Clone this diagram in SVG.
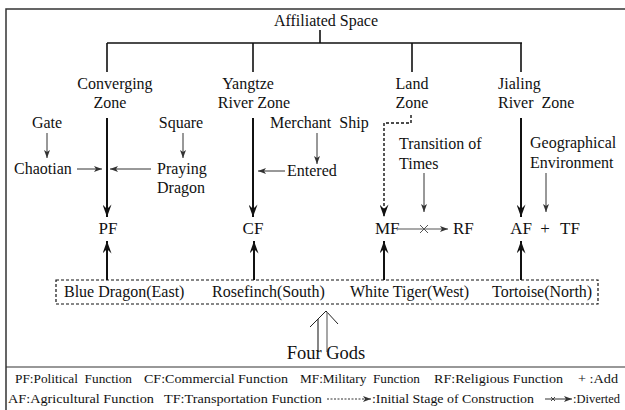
<svg xmlns="http://www.w3.org/2000/svg" width="625" height="410" viewBox="0 0 625 410">
<style>
text{font-family:"Liberation Serif","Times New Roman",serif;fill:#111}
.t{font-size:16px}
.f{font-size:17px}
.lg{font-size:13px}
.m{text-anchor:middle}
.thick{stroke:#111;stroke-width:2;fill:none}
.thin{stroke:#333;stroke-width:1;fill:none}
.tree{stroke:#111;stroke-width:1.6;fill:none}
.dash{stroke:#111;stroke-width:1.4;fill:none;stroke-dasharray:3,2}
</style>
<defs>
<marker id="big" viewBox="0 0 14 10" markerWidth="14" markerHeight="9" refX="14" refY="5" orient="auto" markerUnits="userSpaceOnUse">
<path d="M0,0 L14,5 L0,10 L5,5 z" fill="#111"/>
</marker>
<marker id="small" viewBox="0 0 8 6" markerWidth="8" markerHeight="6" refX="8" refY="3" orient="auto" markerUnits="userSpaceOnUse">
<path d="M0,0 L8,3 L0,6 L2,3 z" fill="#333"/>
</marker>
</defs>

<g id="frame">
<path d="M6,410 V9 H625" stroke="#333" stroke-width="1.5" fill="none"/>
<line x1="6" y1="367" x2="625" y2="367" stroke="#333" stroke-width="1.2"/>
</g>

<g id="connectors">
<path class="tree" d="M320,30 V43 M107,43 H522 M107,43 V72 M253,43 V72 M412,43 V72 M521,43 V72"/>
<line class="thick" x1="107" y1="118" x2="107" y2="217" marker-end="url(#big)"/>
<line class="thick" x1="253" y1="118" x2="253" y2="217" marker-end="url(#big)"/>
<line class="thick" x1="521" y1="118" x2="521" y2="217" marker-end="url(#big)"/>
<path class="dash" d="M411,115 V123 H384 V217" marker-end="url(#big)"/>
<line class="thick" x1="107" y1="280" x2="107" y2="241" marker-end="url(#big)"/>
<line class="thick" x1="254" y1="280" x2="254" y2="241" marker-end="url(#big)"/>
<line class="thick" x1="384" y1="280" x2="384" y2="241" marker-end="url(#big)"/>
<line class="thick" x1="521" y1="280" x2="521" y2="241" marker-end="url(#big)"/>
<line class="thin" x1="47" y1="133" x2="47" y2="158" marker-end="url(#small)"/>
<line class="thin" x1="183" y1="133" x2="183" y2="158" marker-end="url(#small)"/>
<line class="thin" x1="317" y1="133" x2="317" y2="164" marker-end="url(#small)"/>
<line class="thin" x1="77" y1="169" x2="102" y2="169" marker-end="url(#small)"/>
<line class="thin" x1="151" y1="169" x2="110" y2="169" marker-end="url(#small)"/>
<line class="thin" x1="285" y1="171" x2="258" y2="171" marker-end="url(#small)"/>
<line class="thin" x1="424" y1="173" x2="424" y2="212" marker-end="url(#small)"/>
<line class="thin" x1="546" y1="173" x2="546" y2="212" marker-end="url(#small)"/>
<line x1="398" y1="229" x2="448" y2="229" stroke="#555" stroke-width="1.2" marker-end="url(#small)"/>
<path d="M420,225 L428,233 M428,225 L420,233" stroke="#555" stroke-width="1"/>
<path d="M310,327 L326,311 L338,324" stroke="#222" stroke-width="1" fill="none"/>
<line x1="318" y1="319" x2="318" y2="352" stroke="#222" stroke-width="1.1"/>
<line x1="327" y1="312" x2="327" y2="352" stroke="#777" stroke-width="1.3"/>
</g>

<g id="affiliated"><text class="t m" x="326" y="26">Affiliated Space</text></g>
<g id="converging"><text class="t m" x="115" y="89">Converging</text><text class="t m" x="110" y="108">Zone</text></g>
<g id="yangtze"><text class="t m" x="248" y="89">Yangtze</text><text class="t m" x="254" y="108">River Zone</text></g>
<g id="land"><text class="t m" x="412" y="89">Land</text><text class="t m" x="412" y="108">Zone</text></g>
<g id="jialing"><text class="t" x="498" y="89">Jialing</text><text class="t" x="498" y="108">River&#160; Zone</text></g>
<g id="gate"><text class="t m" x="47" y="128">Gate</text></g>
<g id="square"><text class="t m" x="181" y="128">Square</text></g>
<g id="merchant"><text class="t" x="270" y="128">Merchant&#160; Ship</text></g>
<g id="chaotian"><text class="t" x="14" y="174">Chaotian</text></g>
<g id="praying"><text class="t" x="157" y="174">Praying</text><text class="t" x="157" y="193">Dragon</text></g>
<g id="entered"><text class="t" x="287" y="176">Entered</text></g>
<g id="transition"><text class="t" x="399" y="149">Transition of</text><text class="t" x="399" y="169">Times</text></g>
<g id="geo"><text class="t" x="530" y="148">Geographical</text><text class="t" x="530" y="168">Environment</text></g>
<g id="pf"><text class="f m" x="108" y="234">PF</text></g>
<g id="cf"><text class="f m" x="253" y="234">CF</text></g>
<g id="mf"><text class="f" x="375" y="234">MF</text></g>
<g id="rf"><text class="f" x="453" y="234">RF</text></g>
<g id="af"><text class="f m" x="521" y="234">AF</text></g>
<g id="plus"><text class="f m" x="545" y="234">+</text></g>
<g id="tf"><text class="f" x="560" y="234">TF</text></g>

<g id="fourgods-box">
<rect x="56" y="280" width="542" height="24" fill="none" stroke="#111" stroke-width="1.2" stroke-dasharray="3,2"/>
<text class="t" x="64" y="297">Blue Dragon(East)</text>
<text class="t" x="212" y="297">Rosefinch(South)</text>
<text class="t" x="350" y="297">White Tiger(West)</text>
<text class="t" x="492" y="297">Tortoise(North)</text>
</g>
<g id="fourgods"><text class="m" x="326" y="359" style="font-size:18.5px">Four Gods</text></g>

<g id="legend">
<text class="lg" x="15" y="383" textLength="117" lengthAdjust="spacingAndGlyphs">PF:Political&#160; Function</text>
<text class="lg" x="144" y="383" textLength="144" lengthAdjust="spacingAndGlyphs">CF:Commercial Function</text>
<text class="lg" x="300" y="383" textLength="120" lengthAdjust="spacingAndGlyphs">MF:Military&#160; Function</text>
<text class="lg" x="434" y="383" textLength="129" lengthAdjust="spacingAndGlyphs">RF:Religious Function</text>
<text class="lg" x="578" y="383" textLength="40" lengthAdjust="spacingAndGlyphs">+ :Add</text>
<text class="lg" x="8" y="403" textLength="146" lengthAdjust="spacingAndGlyphs">AF:Agricultural Function</text>
<text class="lg" x="164" y="403" textLength="158" lengthAdjust="spacingAndGlyphs">TF:Transportation Function</text>
<line x1="327" y1="399" x2="371" y2="399" stroke="#333" stroke-width="1" stroke-dasharray="2,1.5" marker-end="url(#small)"/>
<text class="lg" x="372" y="403" textLength="162" lengthAdjust="spacingAndGlyphs">:Initial Stage of Construction</text>
<line x1="545" y1="399" x2="572" y2="399" stroke="#333" stroke-width="1" marker-end="url(#small)"/>
<path d="M551,397 L555,401 M555,397 L551,401" stroke="#333" stroke-width="0.9"/>
<text class="lg" x="573" y="403" textLength="47" lengthAdjust="spacingAndGlyphs">:Diverted</text>
</g>
</svg>
